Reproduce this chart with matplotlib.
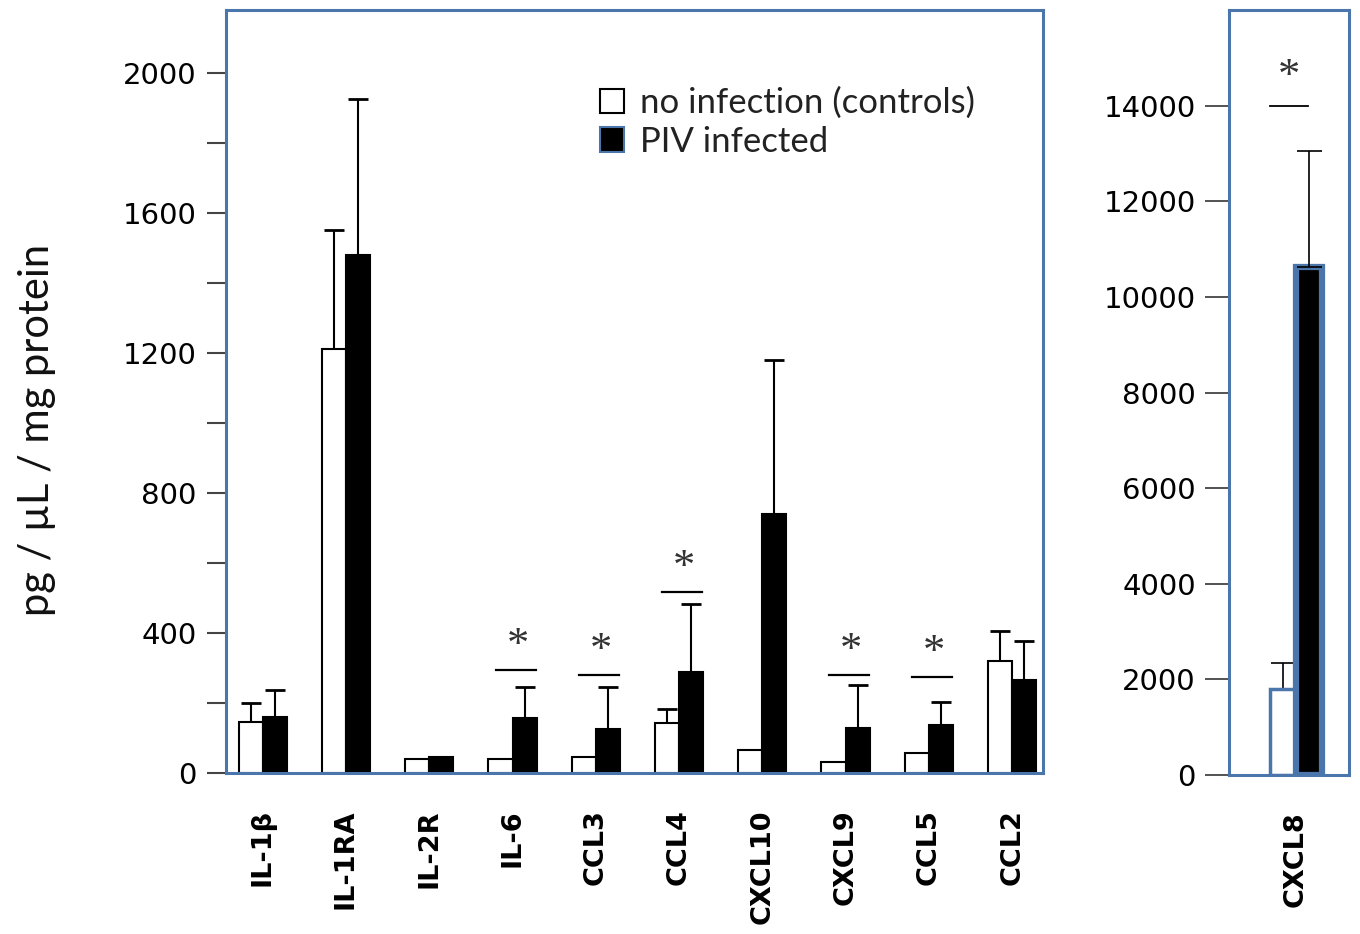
import matplotlib.pyplot as plt
import numpy as np
from matplotlib.patches import Patch

categories = ['IL-1β', 'IL-1RA', 'IL-2R', 'IL-6', 'CCL3', 'CCL4',
              'CXCL10', 'CXCL9', 'CCL5', 'CCL2']
controls = [145, 1210, 40, 40, 46, 143, 66, 31, 57, 320]
controls_err = [55, 340, 0, 0, 0, 40, 0, 0, 0, 86]
piv = [160, 1480, 46, 157, 126, 289, 740, 129, 137, 266]
piv_err = [77, 446, 0, 89, 120, 194, 440, 122, 66, 111]

# significance marks: category index, height of the bar line
sig_idx = [3, 4, 5, 7, 8]
sig_y = [294, 280, 517, 280, 274]

cxcl8_label = ['CXCL8']
cxcl8_controls = [1800]
cxcl8_controls_err = [540]
cxcl8_piv = [10620]
cxcl8_piv_err = [2440]
cxcl8_sig_y = [14000]

blue = '#4a76ab'
label_font = dict(fontsize=19.5, fontweight='bold', family='DejaVu Sans')

fig = plt.figure(figsize=(13.6, 9.34), dpi=100)
ax = fig.add_axes([0.1662, 0.1724, 0.6007, 0.8169])
ax2 = fig.add_axes([0.9037, 0.1702, 0.0882, 0.8191])

# ---- left panel ----
x = np.arange(len(categories))
w = 0.29
ax.bar(x - w / 2, controls, w, color='white', edgecolor='black', linewidth=1.5, zorder=2)
ax.bar(x + w / 2, piv, w, color='black', edgecolor='black', linewidth=1.5, zorder=2)

ce = np.array(controls_err)
pe = np.array(piv_err)
m = ce > 0
ax.errorbar((x - w / 2)[m], np.array(controls)[m], yerr=[np.zeros(m.sum()), ce[m]],
            fmt='none', ecolor='black', elinewidth=1.5, capsize=7.5, capthick=2, zorder=1)
m = pe > 0
ax.errorbar((x + w / 2)[m], np.array(piv)[m], yerr=[np.zeros(m.sum()), pe[m]],
            fmt='none', ecolor='black', elinewidth=1.5, capsize=7.5, capthick=2, zorder=1)

for i, yv in zip(sig_idx, sig_y):
    ax.plot([i - 0.2, i + 0.28], [yv, yv], color='black', lw=1.6)
    ax.text(i + 0.06, yv + 68, '*', ha='center', va='center', fontsize=32,
            family='Liberation Serif', color='#333333')

ax.set_xlim(-0.44, 9.37)
ax.set_ylim(0, 2180)
ax.set_yticks(range(0, 2001, 200))
ax.set_yticklabels([str(v) if v % 400 == 0 else '' for v in range(0, 2001, 200)])
ax.set_xticks(x)
ax.set_xticklabels(categories, rotation=90, **label_font)
ax.tick_params(axis='x', length=0, pad=26)
ax.tick_params(axis='y', length=14, width=1.5, color='#444444', pad=7, labelsize=21)
for s in ax.spines.values():
    s.set_color(blue)
    s.set_linewidth(2.2)

handles = [Patch(facecolor='white', edgecolor='black', linewidth=1.5),
           Patch(facecolor='black', edgecolor=blue, linewidth=1.5)]
ax.legend(handles, ['no infection (controls)', 'PIV infected'], loc='upper left',
          bbox_to_anchor=(0.419, 0.94), frameon=False, prop={'family': 'Lato', 'size': 25},
          handlelength=0.7, handleheight=0.7, handletextpad=0.45, labelspacing=0.18,
          labelcolor='#222222')

fig.text(0.027, 0.54, 'pg / µL / mg protein', rotation=90, ha='center', va='center',
         fontsize=30, family='Lato', color='#111111')

# ---- right panel ----
x2 = np.arange(len(cxcl8_label))
w2 = 0.22
ax2.bar(x2 - w2 / 2, cxcl8_controls, w2, color='white', edgecolor=blue, linewidth=2.5, zorder=2)
ax2.bar(x2 + w2 / 2, cxcl8_piv, w2, color='black', edgecolor=blue, linewidth=4.5, zorder=2)
ax2.errorbar(x2 - w2 / 2, cxcl8_controls, yerr=[[0], cxcl8_controls_err], fmt='none',
             ecolor='black', elinewidth=1.2, capsize=9, capthick=1.2, zorder=1)
ax2.errorbar(x2 + w2 / 2, cxcl8_piv, yerr=[[0], cxcl8_piv_err], fmt='none',
             ecolor='black', elinewidth=1.2, capsize=9, capthick=1.2, zorder=3)
for yv in cxcl8_sig_y:
    ax2.plot([-0.22, 0.1], [yv, yv], color='black', lw=1.3)
    ax2.text(-0.06, yv + 600, '*', ha='center', va='center', fontsize=32,
             family='Liberation Serif', color='#333333')

ax2.set_xlim(-0.558, 0.442)
ax2.set_ylim(0, 16000)
ax2.set_yticks(range(0, 14001, 2000))
ax2.set_xticks(x2)
ax2.set_xticklabels(cxcl8_label, rotation=90, **label_font)
ax2.tick_params(axis='x', length=0, pad=26)
ax2.tick_params(axis='y', length=17, width=1.3, color='#444444', pad=7, labelsize=21)
for s in ax2.spines.values():
    s.set_color(blue)
    s.set_linewidth(2.2)

fig.savefig('out.png', dpi=100)
